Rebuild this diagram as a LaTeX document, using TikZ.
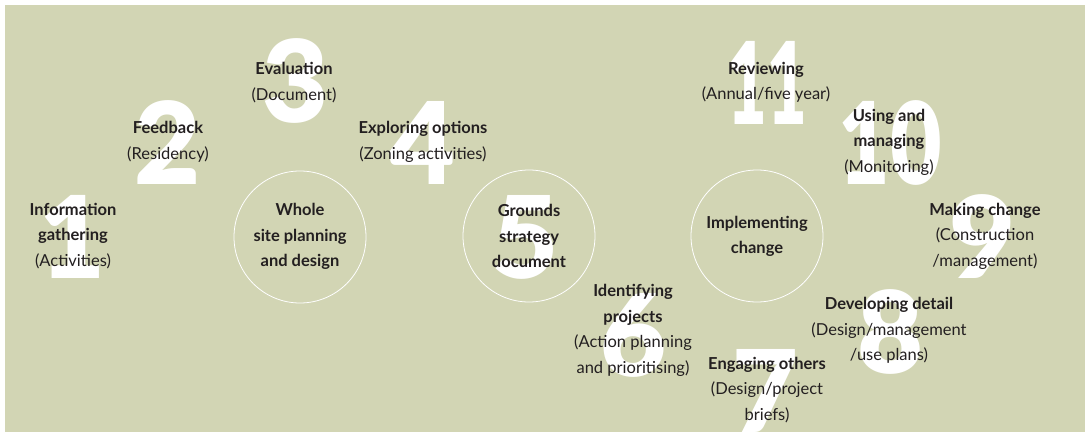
\documentclass[tikz,border=0pt]{standalone}
\usepackage{fontspec}
\setmainfont{Lato}
\newfontfamily\numfont{Lato Black}
\definecolor{sage}{RGB}{210,213,180}
\definecolor{ink}{RGB}{35,31,32}
\begin{document}
\begin{tikzpicture}[x=1pt,y=1pt,
  num/.style={text=white,font=\fontsize{114}{114}\numfont,inner sep=0pt},
  ring/.style={draw=white,line width=0.8pt,circle,minimum size=132pt,inner sep=0pt},
  lbl/.style={text=ink,align=center,font=\fontsize{16.5}{25.5}\selectfont,inner sep=0pt}]
\useasboundingbox (0,0) rectangle (1085,432);
\fill[sage] (5,0) rectangle (1085,427);
% big numerals
\node[num] (n1) at (73,195) {1};
\node[num] (n2) at (168,289) {2};
\node[num] (n3) at (296,351) {3};
\node[num] (n4) at (423,289) {4};
\node[num] (n5) at (526,195) {5};
\node[num] (n6) at (634,97) {6};
\node[num] (n7) at (766,41) {7};
\node[num] (n8) at (891,100) {8};
\node[num] (n9) at (983,195) {9};
\node[num,xscale=0.78,transform shape] (n10) at (890,289) {10};
\node[num,xscale=0.6,transform shape] (n11) at (767,349) {11};
% circles
\node[ring] (c1) at (300,195) {};
\node[ring] (c2) at (529,196) {};
\node[ring] (c3) at (757,196) {};
% labels
\node[lbl] (l1) at (73,196) {\textbf{Information}\\\textbf{gathering}\\(Activities)};
\node[lbl] (l2) at (168,290) {\textbf{Feedback}\\(Residency)};
\node[lbl] (l3) at (294,349.5) {\textbf{Evaluation}\\(Document)};
\node[lbl] (l4) at (423,290) {\textbf{Exploring options}\\(Zoning activities)};
\node[lbl] (w1) at (300,195.5) {\textbf{Whole}\\\textbf{site planning}\\\textbf{and design}};
\node[lbl] (w2) at (529,196) {\textbf{Grounds}\\\textbf{strategy}\\\textbf{document}};
\node[lbl] (l6) at (633,101.5) {\textbf{Identifying}\\\textbf{projects}\\(Action planning\\and prioritising)};
\node[lbl] (w3) at (757,195.5) {\textbf{Implementing}\\\textbf{change}};
\node[lbl] (l11) at (766,349.5) {\textbf{Reviewing}\\(Annual/five year)};
\node[lbl] (l10) at (889,290) {\textbf{Using and}\\\textbf{managing}\\(Monitoring)};
\node[lbl] (l9) at (985,196) {\textbf{Making change}\\(Construction\\/management)};
\node[lbl] (l8) at (889,101.5) {\textbf{Developing detail}\\(Design/management\\/use plans)};
\node[lbl] (l7) at (767,42) {\textbf{Engaging others}\\(Design/project\\briefs)};
\end{tikzpicture}
\end{document}
